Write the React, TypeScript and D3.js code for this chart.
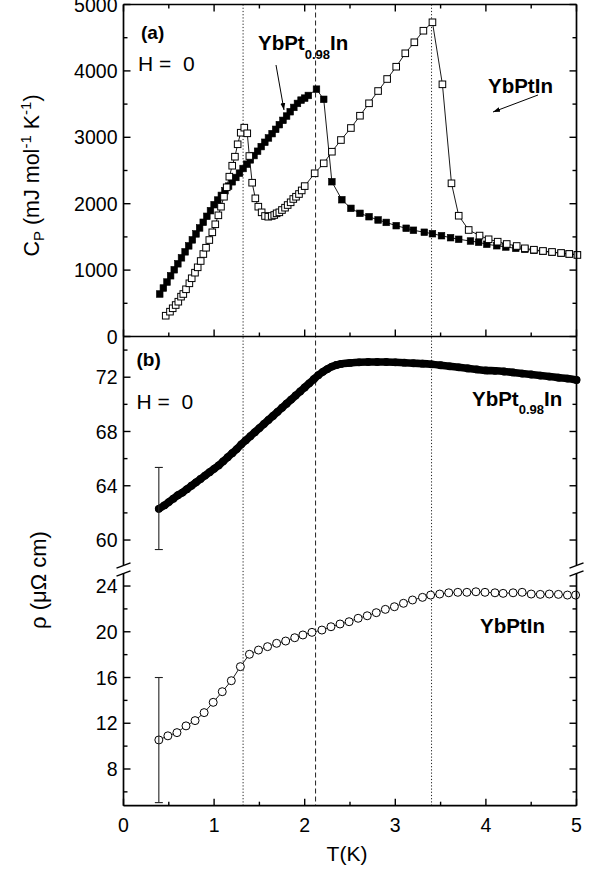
import React from "react";
import * as d3 from "d3";

// ---------- data ----------
// Panel (a): specific heat, YbPt0.98In (filled squares)
const cpFilledT = [0.40,0.44,0.48,0.52,0.56,0.60,0.64,0.68,0.72,0.76,0.80,0.84,0.88,0.92,0.96,1.00,1.04,1.08,1.12,1.16,1.20,1.24,1.28,1.32,1.36,1.40,1.44,1.48,1.52,1.56,1.60,1.64,1.68,1.72,1.76,1.80,1.84,1.88,1.92,1.96,2.00,2.04,2.13,2.21,2.30,2.41,2.51,2.61,2.71,2.81,2.90,3.01,3.12,3.20,3.32,3.41,3.51,3.61,3.70,3.83,3.92,4.01,4.12,4.22,4.33,4.43,4.53,4.63,4.73,4.83,4.92,5.01];
const cpFilledC = [640,730,820,915,1005,1095,1185,1275,1365,1455,1545,1635,1720,1810,1895,1985,2055,2125,2195,2265,2330,2395,2460,2530,2595,2660,2725,2790,2860,2925,2990,3055,3120,3190,3255,3320,3385,3450,3510,3560,3590,3630,3725,3572,2331,2060,1930,1855,1804,1755,1718,1669,1630,1600,1570,1548,1518,1488,1464,1438,1419,1389,1367,1348,1328,1313,1298,1283,1268,1253,1243,1233];

// Panel (a): specific heat, YbPtIn (open squares)
const cpOpenT = [0.466,0.513,0.543,0.576,0.605,0.635,0.660,0.690,0.727,0.753,0.789,0.819,0.852,0.881,0.911,0.947,0.980,1.013,1.047,1.076,1.109,1.139,1.168,1.200,1.230,1.260,1.294,1.333,1.366,1.389,1.420,1.455,1.488,1.525,1.562,1.598,1.636,1.664,1.690,1.720,1.749,1.783,1.812,1.845,1.874,1.904,1.937,1.967,2.000,2.110,2.210,2.300,2.400,2.510,2.610,2.710,2.810,2.910,3.010,3.110,3.210,3.310,3.410,3.520,3.620,3.700,3.810,3.930,4.030,4.130,4.230,4.340,4.430,4.530,4.630,4.730,4.830,4.920,5.010];
const cpOpenC = [313,374,425,474,524,600,640,711,801,877,961,1042,1137,1242,1337,1453,1569,1690,1825,1955,2105,2247,2407,2572,2708,2895,3069,3145,3060,2718,2316,2081,1955,1870,1815,1804,1815,1830,1855,1870,1905,1940,1980,2021,2071,2105,2146,2200,2265,2458,2608,2783,2959,3140,3325,3512,3697,3878,4063,4265,4431,4605,4732,3798,2307,1819,1604,1520,1464,1428,1393,1363,1328,1307,1288,1273,1258,1243,1228];

// Panel (b): resistivity, YbPt0.98In (filled circles, upper segment)
const rhoFilledT = [0.39,0.45,0.50,0.55,0.60,0.65,0.70,0.75,0.80,0.85,0.90,0.95,1.00,1.05,1.10,1.15,1.20,1.25,1.30,1.35,1.40,1.45,1.50,1.55,1.60,1.65,1.70,1.75,1.80,1.85,1.90,1.95,2.00,2.05,2.10,2.15,2.20,2.25,2.30,2.35,2.40,2.50,2.60,2.70,2.80,2.90,3.00,3.10,3.20,3.30,3.40,3.50,3.60,3.70,3.80,3.90,4.00,4.10,4.20,4.30,4.40,4.50,4.60,4.70,4.80,4.90,5.00];
const rhoFilledV = [62.3,62.55,62.8,63.05,63.3,63.5,63.75,64.0,64.25,64.5,64.75,65.0,65.25,65.5,65.8,66.1,66.4,66.7,67.05,67.35,67.65,67.95,68.25,68.55,68.85,69.15,69.45,69.75,70.05,70.35,70.65,70.95,71.25,71.55,71.85,72.15,72.4,72.6,72.78,72.9,72.98,73.05,73.1,73.12,73.12,73.12,73.1,73.07,73.03,73.0,72.95,72.88,72.8,72.73,72.65,72.57,72.5,72.47,72.42,72.35,72.27,72.2,72.12,72.05,71.97,71.9,71.8];

// Panel (b): resistivity, YbPtIn (open circles, lower segment)
const rhoOpenT = [0.39,0.49,0.59,0.69,0.79,0.89,0.99,1.09,1.19,1.29,1.39,1.49,1.59,1.69,1.79,1.89,1.98,2.08,2.19,2.29,2.39,2.49,2.59,2.69,2.79,2.89,2.99,3.09,3.19,3.30,3.39,3.49,3.59,3.69,3.79,3.89,3.99,4.10,4.19,4.30,4.40,4.50,4.60,4.70,4.80,4.90,4.99];
const rhoOpenV = [10.54,10.9,11.18,11.77,12.23,12.93,13.83,14.76,15.72,16.95,18.03,18.4,18.7,18.99,19.19,19.48,19.72,19.95,20.15,20.44,20.68,20.88,21.18,21.4,21.67,21.96,22.19,22.49,22.78,23.01,23.21,23.3,23.41,23.45,23.45,23.5,23.45,23.41,23.36,23.41,23.45,23.3,23.27,23.3,23.27,23.21,23.21];

// Error bars at the lowest temperature
const errT = 0.39;
const errHi = [59.3, 65.35];
const errLo = [5.06, 16.0];

// Transition temperatures (vertical guide lines)
const guideT = [1.32, 2.12, 3.40];
const guideStyle = ["dot", "dash", "dot"];

// Ticks
const xTicks = [0, 1, 2, 3, 4, 5];
const xMinor = [0.5, 1.5, 2.5, 3.5, 4.5];
const cpTicks = [0, 1000, 2000, 3000, 4000, 5000];
const cpMinor = [500, 1500, 2500, 3500, 4500];
const hiTicks = [60, 64, 68, 72];
const hiMinor = [62, 66, 70, 74];
const loTicks = [8, 12, 16, 20, 24];
const loMinor = [6, 10, 14, 18, 22];

// ---------- layout ----------
const W = 603, H = 877;
const L = 123.5, R = 576.5;
const TOP = 4.5, MID = 336.5, BOT = 805.7;
const BRK_HI = 565, BRK_LO = 573;

const FONT = "'Liberation Sans', Arial, Helvetica, sans-serif";

const x = d3.scaleLinear().domain([0, 5]).range([L, R]);
const yCp = d3.scaleLinear().domain([0, 5000]).range([MID, TOP]);
const yHi = d3.scaleLinear().domain([58.16, 75]).range([BRK_HI, MID]);
const yLo = d3.scaleLinear().domain([4.79, 25.14]).range([BOT, BRK_LO]);

const MAJ = 7, MIN = 4;

function zip(a: number[], b: number[]) {
  return a.map((t, i) => [t, b[i]] as [number, number]);
}

export default function App() {
  const filledCp = zip(cpFilledT, cpFilledC);
  const openCp = zip(cpOpenT, cpOpenC);
  const filledRho = zip(rhoFilledT, rhoFilledV);
  const openRho = zip(rhoOpenT, rhoOpenV);

  const lineCp = d3.line<[number, number]>().x(d => x(d[0])).y(d => yCp(d[1]));
  const lineHi = d3.line<[number, number]>().x(d => x(d[0])).y(d => yHi(d[1])).curve(d3.curveMonotoneX);
  const lineLo = d3.line<[number, number]>().x(d => x(d[0])).y(d => yLo(d[1]));

  const sq = 6.6;
  const tickLabelSize = 19.5;

  const yTicksFor = (scale: d3.ScaleLinear<number, number>, major: number[], minor: number[], key: string, labels: boolean) => (
    <g key={key}>
      {major.map(v => (
        <g key={"M" + v}>
          <line x1={L} x2={L + MAJ} y1={scale(v)} y2={scale(v)} stroke="#000" strokeWidth={1.4} />
          <line x1={R} x2={R - MAJ} y1={scale(v)} y2={scale(v)} stroke="#000" strokeWidth={1.4} />
          {labels && (
            <text x={L - 6} y={scale(v)} dy="0.36em" textAnchor="end" fontSize={tickLabelSize} fontFamily={FONT}>{v}</text>
          )}
        </g>
      ))}
      {minor.map(v => (
        <g key={"m" + v}>
          <line x1={L} x2={L + MIN} y1={scale(v)} y2={scale(v)} stroke="#000" strokeWidth={1.4} />
          <line x1={R} x2={R - MIN} y1={scale(v)} y2={scale(v)} stroke="#000" strokeWidth={1.4} />
        </g>
      ))}
    </g>
  );

  const xTicksAt = (y0: number, dir: number, key: string) => (
    <g key={key}>
      {xTicks.map(v => (
        <line key={"M" + v} x1={x(v)} x2={x(v)} y1={y0} y2={y0 + dir * MAJ} stroke="#000" strokeWidth={1.4} />
      ))}
      {xMinor.map(v => (
        <line key={"m" + v} x1={x(v)} x2={x(v)} y1={y0} y2={y0 + dir * MIN} stroke="#000" strokeWidth={1.4} />
      ))}
    </g>
  );

  const slash = (cx: number, cy: number, k: string) => (
    <line key={k} x1={cx - 7} y1={cy + 2.6} x2={cx + 7} y2={cy - 2.6} stroke="#000" strokeWidth={1.5} />
  );

  return (
    <svg width={W} height={H} style={{ position: "absolute", left: 0, top: 0, background: "#fff" }} fontFamily={FONT}>
      <rect x={0} y={0} width={W} height={H} fill="#fff" />
      <defs>
        <marker id="arrow" viewBox="0 0 10 10" refX="10" refY="5" markerWidth="7" markerHeight="7" orient="auto" markerUnits="userSpaceOnUse">
          <path d="M0,1.5 L10,5 L0,8.5 Z" fill="#000" />
        </marker>
      </defs>

      {/* guide lines */}
      {guideT.map((t, i) => (
        <line key={"g" + i} x1={x(t)} x2={x(t)} y1={TOP} y2={BOT} stroke="#222" strokeWidth={1}
          strokeDasharray={guideStyle[i] === "dot" ? "1.2,2" : "5,3"} />
      ))}

      {/* ---------- panel (a) ---------- */}
      <path d={lineCp(filledCp) || ""} fill="none" stroke="#000" strokeWidth={0.9} />
      {filledCp.map((d, i) => (
        <rect key={"fs" + i} x={x(d[0]) - sq / 2} y={yCp(d[1]) - sq / 2} width={sq} height={sq} fill="#000" stroke="#000" strokeWidth={0.6} />
      ))}
      <path d={lineCp(openCp) || ""} fill="none" stroke="#000" strokeWidth={0.9} />
      {openCp.map((d, i) => (
        <rect key={"os" + i} x={x(d[0]) - sq / 2} y={yCp(d[1]) - sq / 2} width={sq} height={sq} fill="#fff" stroke="#000" strokeWidth={1} />
      ))}

      {/* ---------- panel (b) ---------- */}
      <path d={lineHi(filledRho) || ""} fill="none" stroke="#000" strokeWidth={7.6} strokeLinecap="round" strokeLinejoin="round" />
      {filledRho.map((d, i) => (
        <circle key={"fc" + i} cx={x(d[0])} cy={yHi(d[1])} r={3.9} fill="#000" />
      ))}
      <path d={lineLo(openRho) || ""} fill="none" stroke="#000" strokeWidth={0.9} />
      {openRho.map((d, i) => (
        <circle key={"oc" + i} cx={x(d[0])} cy={yLo(d[1])} r={4} fill="#fff" stroke="#000" strokeWidth={1} />
      ))}

      {/* error bars */}
      <g stroke="#222" strokeWidth={1.1}>
        <line x1={x(errT)} x2={x(errT)} y1={yHi(errHi[0])} y2={yHi(errHi[1])} />
        <line x1={x(errT) - 4} x2={x(errT) + 4} y1={yHi(errHi[0])} y2={yHi(errHi[0])} />
        <line x1={x(errT) - 4} x2={x(errT) + 4} y1={yHi(errHi[1])} y2={yHi(errHi[1])} />
        <line x1={x(errT)} x2={x(errT)} y1={yLo(errLo[0])} y2={yLo(errLo[1])} />
        <line x1={x(errT) - 4} x2={x(errT) + 4} y1={yLo(errLo[0])} y2={yLo(errLo[0])} />
        <line x1={x(errT) - 4} x2={x(errT) + 4} y1={yLo(errLo[1])} y2={yLo(errLo[1])} />
      </g>

      {/* ---------- frames ---------- */}
      <g stroke="#000" strokeWidth={1.7} fill="none">
        <line x1={L} x2={R} y1={TOP} y2={TOP} />
        <line x1={L} x2={R} y1={MID} y2={MID} />
        <line x1={L} x2={R} y1={BOT} y2={BOT} />
        <line x1={L} x2={L} y1={TOP} y2={BRK_HI} />
        <line x1={L} x2={L} y1={BRK_LO} y2={BOT} />
        <line x1={R} x2={R} y1={TOP} y2={BRK_HI} />
        <line x1={R} x2={R} y1={BRK_LO} y2={BOT} />
      </g>
      {slash(L, BRK_HI + 0.5, "s1")}
      {slash(L, BRK_LO + 0.5, "s2")}
      {slash(R, BRK_HI + 0.5, "s3")}
      {slash(R, BRK_LO + 0.5, "s4")}

      {/* ticks */}
      {xTicksAt(TOP, 1, "xt1")}
      {xTicksAt(MID, -1, "xt2")}
      {xTicksAt(BOT, -1, "xt3")}
      {yTicksFor(yCp, cpTicks, cpMinor, "ycp", true)}
      {yTicksFor(yHi, hiTicks, hiMinor, "yhi", true)}
      {yTicksFor(yLo, loTicks, loMinor, "ylo", true)}

      {xTicks.map(v => (
        <text key={"xl" + v} x={x(v)} y={832} textAnchor="middle" fontSize={tickLabelSize}>{v}</text>
      ))}

      {/* axis titles */}
      <text x={347} y={861} textAnchor="middle" fontSize={21}>T(K)</text>
      <text transform="translate(38.5,175.5) rotate(-90)" textAnchor="middle" fontSize={21.5}>
        C<tspan fontSize={15} dy={5}>P</tspan><tspan dy={-5}> (mJ mol</tspan><tspan fontSize={15} dy={-8}>-1</tspan><tspan dy={8}> K</tspan><tspan fontSize={15} dy={-8}>-1</tspan><tspan dy={8}>)</tspan>
      </text>
      <text transform="translate(45.5,580) rotate(-90)" textAnchor="middle" fontSize={22}>ρ (μΩ cm)</text>

      {/* panel labels */}
      <text x={141} y={39} fontSize={19} fontWeight="bold">(a)</text>
      <text x={138} y={70.5} fontSize={21}>{"H =\u00a0\u00a00"}</text>
      <text x={136.5} y={366} fontSize={19} fontWeight="bold">(b)</text>
      <text x={136.5} y={409} fontSize={21}>{"H =\u00a0\u00a00"}</text>

      {/* annotations */}
      <text x={258} y={50} fontSize={20.5} fontWeight="bold">YbPt<tspan fontSize={13} dy={9}>0.98</tspan><tspan dy={-9}>In</tspan></text>
      <line x1={276} y1={65} x2={284} y2={110} stroke="#000" strokeWidth={1} markerEnd="url(#arrow)" />
      <text x={488} y={93} fontSize={20.5} fontWeight="bold">YbPtIn</text>
      <line x1={538} y1={95} x2={493} y2={112} stroke="#000" strokeWidth={1} markerEnd="url(#arrow)" />
      <text x={472} y={406} fontSize={20.5} fontWeight="bold">YbPt<tspan fontSize={13} dy={8}>0.98</tspan><tspan dy={-8}>In</tspan></text>
      <text x={480} y={632.5} fontSize={20.5} fontWeight="bold">YbPtIn</text>
    </svg>
  );
}
